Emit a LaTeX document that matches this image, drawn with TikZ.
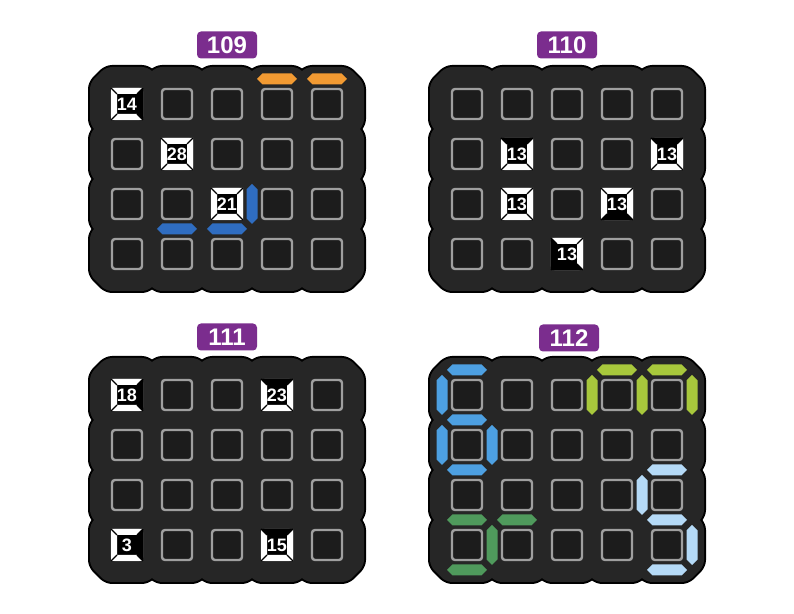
\documentclass[tikz,border=0pt]{standalone}
\usepackage{fontspec}
\setmainfont{Liberation Sans}
\definecolor{boardgray}{HTML}{262626}
\definecolor{cellgray}{HTML}{1C1C1C}
\definecolor{tagpurple}{HTML}{7B2D8E}
\definecolor{segorange}{HTML}{F29A32}
\definecolor{segblue}{HTML}{2F6DC1}
\definecolor{segsky}{HTML}{4DA0E2}
\definecolor{seglime}{HTML}{A8C83C}
\definecolor{segpale}{HTML}{B5DAF7}
\definecolor{seggreen}{HTML}{4F9A5C}
\tikzset{%
  rim/.style      = {draw=black, line width=2pt, rounded corners=3},%
  board/.style    = {fill=boardgray, rounded corners=3},%
  cellbox/.style  = {draw=gray!75, line width=1.2pt, fill=cellgray,%
                     rounded corners=1.5},%
  tag/.style      = {fill=tagpurple, rounded corners=2pt, text=white,%
                     font=\fontsize{12}{12}\selectfont\bfseries,%
                     minimum width=30pt, minimum height=13.5pt, inner sep=0pt},%
  cluenum/.style  = {text=white, inner sep=0pt,%
                     font=\fontsize{9}{9}\selectfont\bfseries}%
}
% one chamfered tile per cell, outline first, then fill over it
\newcommand{\tile}[1]{%
  \path[#1] (\c*50,\r*50) ++(-21,-37) -- ++(42,0) -- ++(16,16) -- ++(0,42)%
    -- ++(-16,16) -- ++(-42,0) -- ++(-16,-16) -- ++(0,-42) -- cycle;}
\newcommand{\board}{%
  \foreach \c in {0,...,4}{\foreach \r in {0,...,3}{\tile{rim}}}%
  \foreach \c in {0,...,4}{\foreach \r in {0,...,3}{\tile{board}}}%
  \foreach \c in {0,...,4}{\foreach \r in {0,...,3}{%
    \path[cellbox] (\c*50-15,\r*50-15) rectangle (\c*50+15,\r*50+15);}}}
\newcommand{\segh}[3]{%
  \fill[#1] (#2*50-20,#3*50) -- ++(5.5,-5.5) -- ++(29,0) -- ++(5.5,5.5)%
    -- ++(-5.5,5.5) -- ++(-29,0) -- cycle;}
\newcommand{\segv}[3]{%
  \fill[#1] (#2*50,#3*50-20) -- ++(5.5,5.5) -- ++(0,29) -- ++(-5.5,5.5)%
    -- ++(-5.5,-5.5) -- ++(0,-29) -- cycle;}
% name, column, row, number, top, right, bottom, left
\newcommand{\clue}[8]{%
  \begin{scope}[shift={(#2*50,#3*50)}]
    \fill[black] (-16,-16) rectangle (16,16);
    \fill[#5] (-16,-16) -- (16,-16) -- (10,-10) -- (-10,-10) -- cycle;
    \fill[#6] (16,-16) -- (16,16) -- (10,10) -- (10,-10) -- cycle;
    \fill[#7] (16,16) -- (-16,16) -- (-10,10) -- (10,10) -- cycle;
    \fill[#8] (-16,16) -- (-16,-16) -- (-10,-10) -- (-10,10) -- cycle;
    \draw[black, line width=0.6pt] (-16,-16) -- (-10,-10) (16,-16) -- (10,-10)
      (16,16) -- (10,10) (-16,16) -- (-10,10);
    \node[cluenum] (#1) at (0,0.5) {#4};
  \end{scope}}

\begin{document}
\begin{tikzpicture}[x=0.5pt, y=-0.5pt]
	\useasboundingbox[fill=white] (0,0) rectangle (794,614);
	% 109
	\node[tag] (t109) at (227,45) {109};
	\begin{scope}[shift={(127,104)}]
		\board
		\segh{segorange}{3}{-0.5}
		\segh{segorange}{4}{-0.5}
		\segh{segblue}{1}{2.5}
		\segh{segblue}{2}{2.5}
		\segv{segblue}{2.5}{2}
		\clue{a14}{0}{0}{14}{white}{black}{white}{white}
		\clue{a28}{1}{1}{28}{white}{white}{white}{white}
		\clue{a21}{2}{2}{21}{white}{white}{white}{white}
	\end{scope}
	% 110
	\node[tag] (t110) at (567,45) {110};
	\begin{scope}[shift={(467,104)}]
		\board
		\clue{b1}{1}{1}{13}{black}{white}{white}{white}
		\clue{b2}{4}{1}{13}{black}{white}{white}{white}
		\clue{b3}{1}{2}{13}{white}{white}{white}{white}
		\clue{b4}{3}{2}{13}{white}{white}{black}{white}
		\clue{b5}{2}{3}{13}{white}{white}{black}{black}
	\end{scope}
	% 111
	\node[tag] (t111) at (227,337) {111};
	\begin{scope}[shift={(127,395)}]
		\board
		\clue{c18}{0}{0}{18}{white}{black}{white}{white}
		\clue{c23}{3}{0}{23}{black}{white}{white}{white}
		\clue{c3}{0}{3}{3}{white}{black}{white}{white}
		\clue{c15}{3}{3}{15}{black}{white}{white}{white}
	\end{scope}
	% 112
	\node[tag] (t112) at (569,338) {112};
	\begin{scope}[shift={(467,395)}]
		\board
		\segh{segsky}{0}{-0.5}
		\segv{segsky}{-0.5}{0}
		\segh{segsky}{0}{0.5}
		\segv{segsky}{-0.5}{1}
		\segv{segsky}{0.5}{1}
		\segh{segsky}{0}{1.5}
		\segh{seglime}{3}{-0.5}
		\segh{seglime}{4}{-0.5}
		\segv{seglime}{2.5}{0}
		\segv{seglime}{3.5}{0}
		\segv{seglime}{4.5}{0}
		\segh{segpale}{4}{1.5}
		\segv{segpale}{3.5}{2}
		\segh{segpale}{4}{2.5}
		\segv{segpale}{4.5}{3}
		\segh{segpale}{4}{3.5}
		\segh{seggreen}{0}{2.5}
		\segh{seggreen}{1}{2.5}
		\segv{seggreen}{0.5}{3}
		\segh{seggreen}{0}{3.5}
	\end{scope}
\end{tikzpicture}
\end{document}
